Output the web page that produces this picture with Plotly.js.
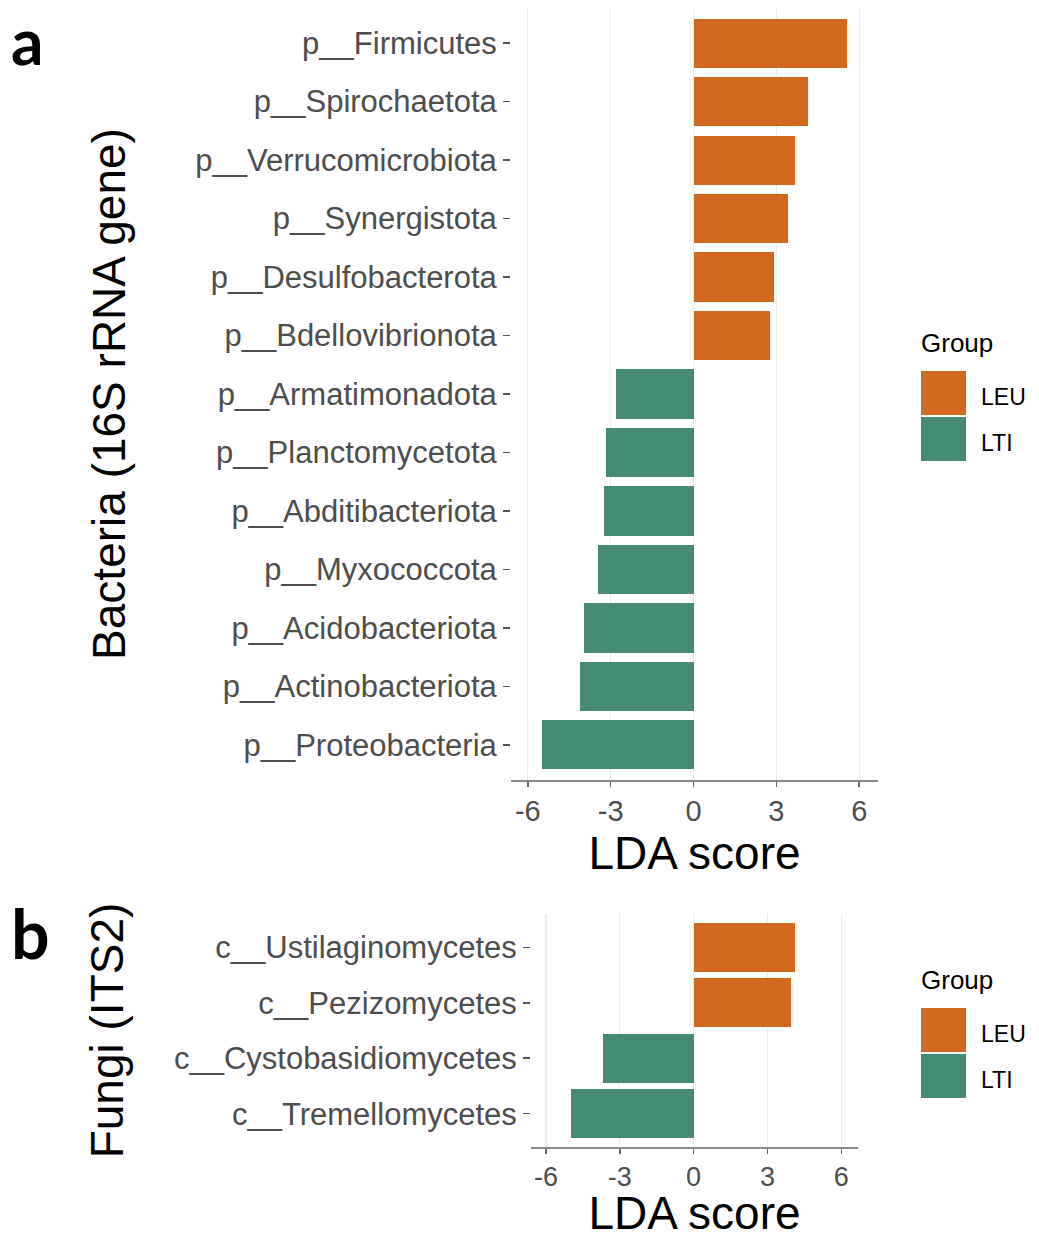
<!DOCTYPE html>
<html>
<head>
<meta charset="utf-8">
<script src="https://cdn.plot.ly/plotly-3.0.1.min.js"></script>
<style>html,body{margin:0;padding:0;background:#fff;}#chart{width:1039px;height:1239px;}</style>
</head>
<body>
<div id="chart"></div>
<script>
// Panel a: Bacteria (16S rRNA gene), listed top to bottom
const bacteriaTaxa = ['p__Firmicutes','p__Spirochaetota','p__Verrucomicrobiota','p__Synergistota','p__Desulfobacterota','p__Bdellovibrionota','p__Armatimonadota','p__Planctomycetota','p__Abditibacteriota','p__Myxococcota','p__Acidobacteriota','p__Actinobacteriota','p__Proteobacteria'];
const bacteriaLDA = [5.56, 4.15, 3.68, 3.43, 2.93, 2.78, -2.80, -3.16, -3.24, -3.46, -3.96, -4.10, -5.49];
const bacteriaGroup = ['LEU','LEU','LEU','LEU','LEU','LEU','LTI','LTI','LTI','LTI','LTI','LTI','LTI'];

// Panel b: Fungi (ITS2), listed top to bottom
const fungiTaxa = ['c__Ustilaginomycetes','c__Pezizomycetes','c__Cystobasidiomycetes','c__Tremellomycetes'];
const fungiLDA = [4.13, 3.97, -3.69, -4.99];
const fungiGroup = ['LEU','LEU','LTI','LTI'];

const groupNames = ['LEU','LTI'];
const groupColors = {LEU:'#D2691E', LTI:'#458B74'};
const xTicks = [-6,-3,0,3,6];

const W = 1039, H = 1239;
const px = v => v / W;
const py = v => 1 - v / H;

const yTickFont = {family:'Liberation Sans, Arial, sans-serif', size:31, color:'#4d4d4d'};
const titleFont = {family:'Liberation Sans, Arial, sans-serif', size:46, color:'#000'};

const traceA = {
  type:'bar', orientation:'h', x:bacteriaLDA, y:bacteriaTaxa,
  marker:{color:bacteriaGroup.map(g=>groupColors[g])}, width:0.84,
  xaxis:'x', yaxis:'y', showlegend:false, hoverinfo:'x+y'
};
const traceB = {
  type:'bar', orientation:'h', x:fungiLDA, y:fungiTaxa,
  marker:{color:fungiGroup.map(g=>groupColors[g])}, width:0.88,
  xaxis:'x2', yaxis:'y2', showlegend:false, hoverinfo:'x+y'
};

function xAxis(domain, anchor, standoff, tickSize){
  return {
    domain:domain, anchor:anchor, range:[-6.61,6.68],
    tickvals:xTicks, ticktext:xTicks.map(String),
    showgrid:true, gridcolor:'#ebebeb', gridwidth:1.2, zeroline:false,
    showline:true, linecolor:'#888', linewidth:1.5,
    ticks:'outside', ticklen:5, tickcolor:'#666', tickwidth:1.5,
    tickfont:{family:'Liberation Sans, Arial, sans-serif', size:tickSize, color:'#4d4d4d'},
    title:{text:'LDA score', font:titleFont, standoff:standoff},
    automargin:false, fixedrange:true
  };
}
function yAxis(domain, anchor, cats, title, standoff){
  return {
    domain:domain, anchor:anchor, type:'category',
    categoryorder:'array', categoryarray:cats,
    range:[cats.length-0.4, -0.6],
    showgrid:false, zeroline:false, showline:false,
    ticks:'outside', ticklen:7, tickcolor:'#555', tickwidth:1.5,
    tickfont:yTickFont,
    title:{text:title, font:titleFont, standoff:standoff},
    automargin:false, fixedrange:true
  };
}

const layout = {
  width:W, height:H, margin:{l:0,r:0,t:0,b:0},
  paper_bgcolor:'#fff', plot_bgcolor:'#fff',
  showlegend:false, bargap:0,
  xaxis: xAxis([px(511), px(878)], 'y', 10, 29),
  yaxis: yAxis([py(780), py(8)], 'x', bacteriaTaxa, 'Bacteria (16S rRNA gene)', 55),
  xaxis2: xAxis([px(531), px(858)], 'y2', 18, 27),
  yaxis2: yAxis([py(1147), py(914)], 'x2', fungiTaxa, 'Fungi (ITS2)', 35),
  shapes:[], annotations:[]
};

// Panel letters
layout.annotations.push({text:'<b>a</b>', xref:'paper', yref:'paper', x:px(9), y:py(0), xanchor:'left', yanchor:'top', showarrow:false, font:{family:'Lato, Open Sans, sans-serif', size:64, color:'#000'}});
layout.annotations.push({text:'<b>b</b>', xref:'paper', yref:'paper', x:px(9), y:py(890), xanchor:'left', yanchor:'top', showarrow:false, font:{family:'Lato, Open Sans, sans-serif', size:68, color:'#000'}});

// Legends (one per panel)
function addLegend(titleY, keyTop){
  layout.annotations.push({text:'Group', xref:'paper', yref:'paper', x:px(919), y:py(titleY), xanchor:'left', yanchor:'middle', showarrow:false, font:{family:'Liberation Sans, Arial, sans-serif', size:26, color:'#000'}});
  groupNames.forEach((g,i)=>{
    const t = keyTop + i*46;
    layout.shapes.push({type:'rect', xref:'paper', yref:'paper', x0:px(921), x1:px(966), y0:py(t), y1:py(t+44), fillcolor:groupColors[g], line:{width:0}});
    layout.annotations.push({text:g, xref:'paper', yref:'paper', x:px(979), y:py(t+26), xanchor:'left', yanchor:'middle', showarrow:false, font:{family:'Liberation Sans, Arial, sans-serif', size:23, color:'#000'}});
  });
}
addLegend(343, 371);
addLegend(980, 1008);

Plotly.newPlot('chart', [traceA, traceB], layout, {displayModeBar:false, staticPlot:true});
</script>
</body>
</html>
